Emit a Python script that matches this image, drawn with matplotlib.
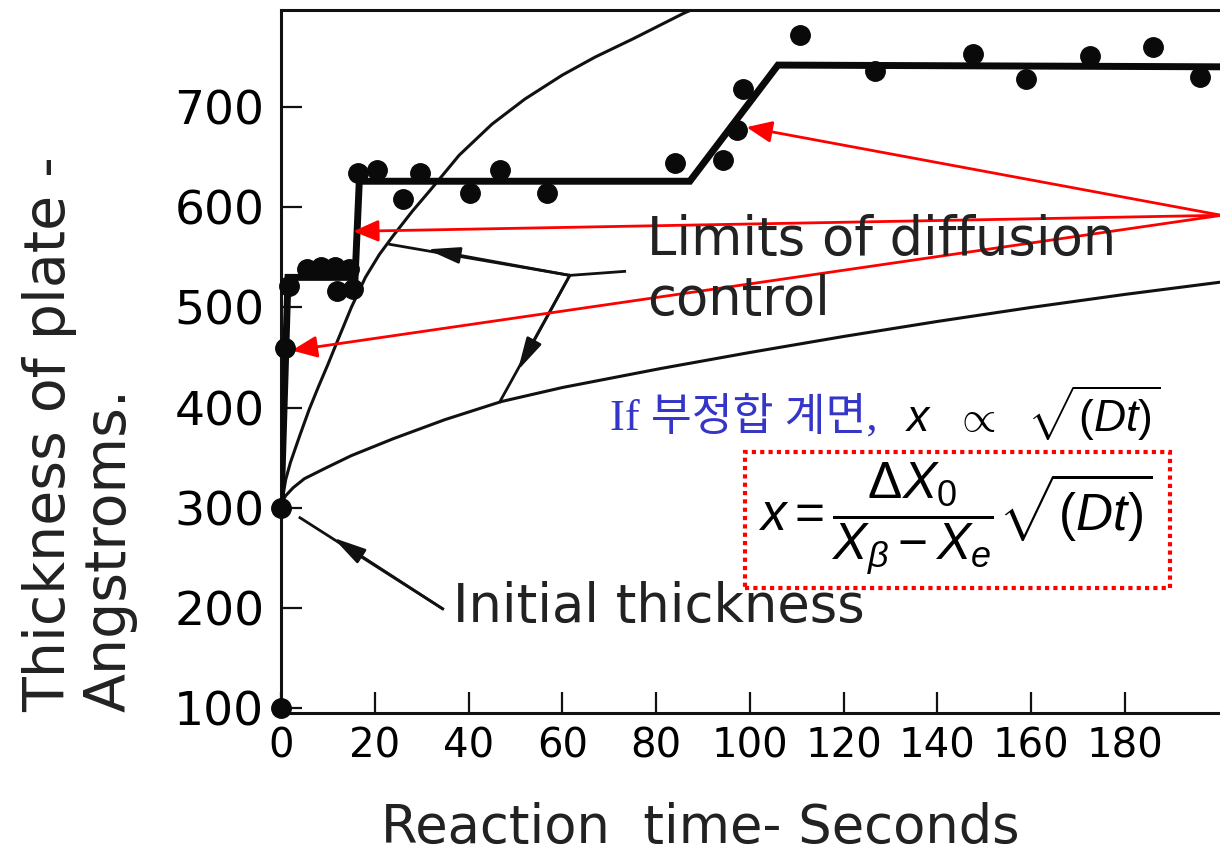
import matplotlib
matplotlib.use("Agg")
import matplotlib.pyplot as plt
from matplotlib.patches import Rectangle

plt.rcParams['font.family'] = ['DejaVu Sans']
plt.rcParams['mathtext.fontset'] = 'custom'
plt.rcParams['mathtext.rm'] = 'Liberation Sans'
plt.rcParams['mathtext.it'] = 'Liberation Sans:italic'
plt.rcParams['mathtext.bf'] = 'Liberation Sans:bold'

# measured plate thickness (seconds, angstroms)
time_pts = [0, 0, 0.9, 1.8, 5.5, 8.5, 11.5, 14.5, 12.0, 15.4, 16.5, 20.4, 26.1, 29.6,
            40.3, 46.7, 56.7, 84.0, 94.3, 97.2, 98.6, 110.7, 126.7, 147.6, 159.0,
            172.5, 186.0, 196.0]
thick_pts = [300, 100, 459, 521, 538, 540, 540, 538, 516, 518, 634, 637, 608, 634,
             614, 637, 614, 644, 647, 677, 718, 772, 736, 753, 728, 751, 760, 730]

# stepwise growth line
step_t = [0, 1.5, 15.8, 16.7, 87.2, 106.0, 215]
step_x = [300, 530, 530, 626, 626, 742, 740]

# limits of diffusion control
upper_t = [0, 1, 2, 4, 6, 8, 10, 12, 15, 18, 21, 24, 28, 32, 38, 45, 52, 60, 67, 75, 86, 92]
upper_x = [300, 328, 345, 372, 398, 421, 443, 466, 500, 530, 553, 572, 596, 618, 652,
           683, 708, 732, 750, 768, 794, 806]
lower_t = [0, 0.5, 1, 2.6, 5, 9.7, 15, 24, 35, 47, 60, 81, 100, 120, 140, 160, 180, 200, 215]
lower_x = [300, 308, 312, 320, 329, 340, 352, 369, 388, 406, 420, 439, 455, 471, 486,
           500, 513, 525, 534]

x_ticks = [0, 20, 40, 60, 80, 100, 120, 140, 160, 180]
y_ticks = [100, 200, 300, 400, 500, 600, 700]

W, H = 1220, 856


def px(x, y):
    # image pixel -> figure fraction
    return x / W, 1 - y / H


fig = plt.figure(figsize=(W / 100, H / 100), dpi=100)
ax = fig.add_axes([281 / W, 143 / H, 1008 / W, 703 / H])

ax.plot(upper_t, upper_x, color='#111111', lw=2.2, zorder=2)
ax.plot(lower_t, lower_x, color='#111111', lw=2.2, zorder=2)
ax.plot(step_t, step_x, color='#0a0a0a', lw=5, zorder=3, solid_joinstyle='miter')
ax.plot(time_pts, thick_pts, 'o', color='#0a0a0a', ms=14, zorder=4, clip_on=False)

ax.set_xlim(0, 215)
ax.set_ylim(95, 797)
ax.set_xticks(x_ticks)
ax.set_yticks(y_ticks)
ax.tick_params(direction='in', length=15, width=1.6, color='#111111')
ax.tick_params(axis='x', labelsize=29, pad=10)
ax.tick_params(axis='y', labelsize=34, pad=12)
for s in ax.spines.values():
    s.set_linewidth(2.2)
    s.set_color('#111111')

# black annotation pointers: full line, then a head part-way along it
black = dict(arrowstyle='-|>,head_length=0.8,head_width=0.2', color='#111111',
             lw=2, mutation_scale=25, shrinkA=0, shrinkB=0)
ax.plot([73.3, 61.6, 23.2], [536, 532, 563], color='#111111', lw=2)
ax.annotate('', xy=(31.1, 558), xytext=(61.6, 532), arrowprops=black)
ax.plot([61.6, 46.7], [532, 406], color='#111111', lw=2)
ax.annotate('', xy=(50.5, 437), xytext=(61.6, 532), arrowprops=black)
ax.plot([34.5, 4.05], [199, 290], color='#111111', lw=2)
ax.annotate('', xy=(11.1, 270), xytext=(34.5, 199), arrowprops=black)

# red pointers from the right edge
red = dict(arrowstyle='-|>,head_length=0.7,head_width=0.3', color='red',
           lw=2, mutation_scale=22, shrinkA=0, shrinkB=0)
for tx, ty in [(99.3, 680), (15.4, 576), (2.3, 457)]:
    ax.annotate('', xy=(tx, ty), xytext=(200.6, 592), arrowprops=red,
                annotation_clip=False)

fig.text(*px(647, 255), 'Limits of diffusion', fontsize=38, color='#222222',
         va='baseline', ha='left')
fig.text(*px(647, 315), 'control', fontsize=38, color='#222222',
         va='baseline', ha='left')
fig.text(*px(453, 622), 'Initial thickness', fontsize=38, color='#222222',
         va='baseline', ha='left')

fig.text(*px(700, 843), 'Reaction  time- Seconds', fontsize=38, color='#222222',
         ha='center', va='baseline')
fig.text(*px(50, 712), 'Thickness of plate -', fontsize=41, color='#222222',
         rotation=90, ha='center', va='bottom')
fig.text(*px(110, 712), 'Angstroms.', fontsize=41, color='#222222',
         rotation=90, ha='center', va='bottom')

fig.text(*px(610, 430), 'If 부정합 계면,', fontsize=32, color='#3535c8',
         family=['Liberation Serif', 'Noto Sans CJK KR'], va='baseline')
fig.text(*px(905, 432), r'$x\ \ \propto\ \ \sqrt{(Dt)}$', fontsize=32,
         color='black', va='baseline')
fig.text(*px(955, 518), r'$x=\dfrac{\Delta X_0}{X_\beta - X_e}\sqrt{(Dt)}$',
         fontsize=37, color='black', ha='center', va='center')
fig.patches.append(Rectangle(px(745, 588), 425 / W, 136 / H, transform=fig.transFigure,
                             fill=False, ec='red', lw=3, ls=(0, (1, 1))))

fig.savefig('out.png', dpi=100)
